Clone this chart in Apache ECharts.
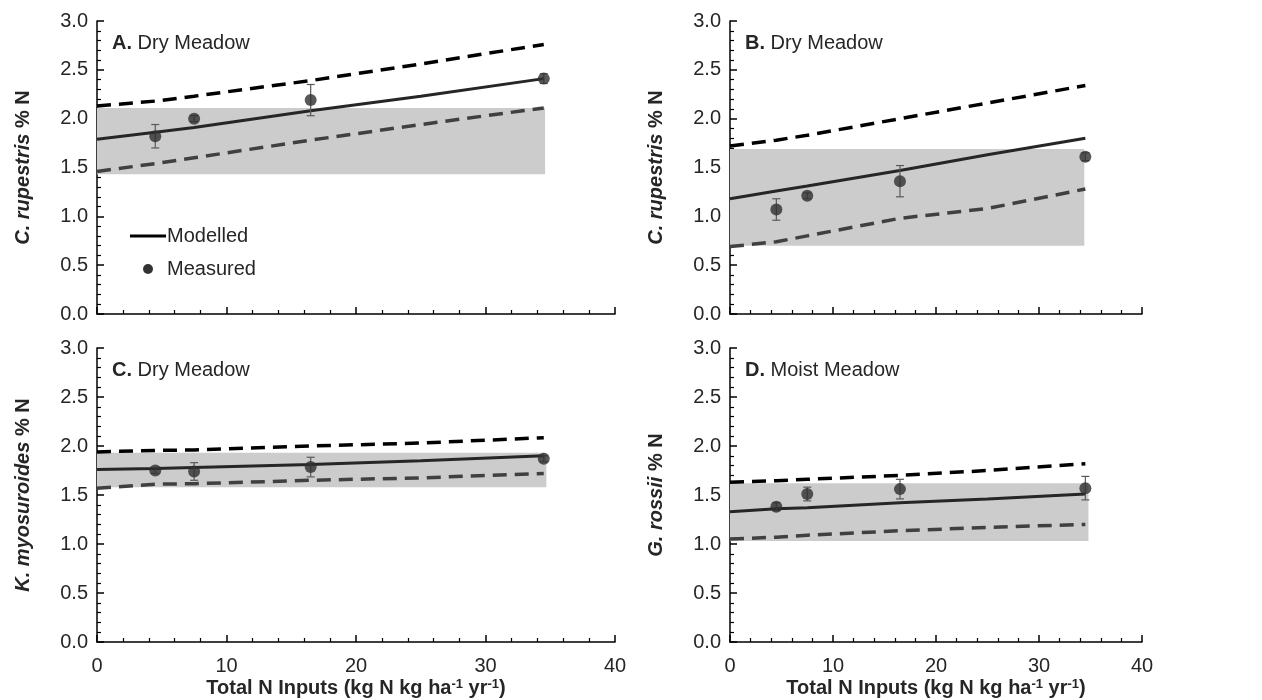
<!DOCTYPE html>
<html>
<head>
<meta charset="utf-8">
<script src="https://cdn.jsdelivr.net/npm/echarts@6/dist/echarts.min.js"></script>
<style>
  html, body { margin: 0; padding: 0; background: #fff; }
  #chart { width: 1262px; height: 700px; }
</style>
</head>
<body>
<div id="chart"></div>
<script>
// x positions (kg N ha-1 yr-1)
const nInputs = [4.5, 7.5, 16.5, 34.5]
const modelX = [0, 4.5, 7.5, 16.5, 25, 34.5]

// A. C. rupestris, Dry Meadow
const measuredA = [1.82, 2.00, 2.19, 2.41]
const errA = [0.12, 0.03, 0.16, 0.05]
const modelA = [1.79, 1.86, 1.91, 2.08, 2.23, 2.41]
const upperA = [2.13, 2.18, 2.23, 2.39, 2.56, 2.76]
const lowerA = [1.46, 1.54, 1.60, 1.78, 1.94, 2.11]
const bandA = [0, 1.43, 34.6, 2.11]

// B. C. rupestris, Dry Meadow
const measuredB = [1.07, 1.21, 1.36, 1.61]
const errB = [0.11, 0.03, 0.16, 0.04]
const modelB = [1.18, 1.26, 1.31, 1.47, 1.63, 1.80]
const upperB = [1.72, 1.78, 1.83, 2.00, 2.16, 2.34]
const lowerB = [0.69, 0.74, 0.80, 0.98, 1.08, 1.28]
const bandB = [0, 0.70, 34.4, 1.69]

// C. K. myosuroides, Dry Meadow
const measuredC = [1.75, 1.74, 1.785, 1.87]
const errC = [0.03, 0.09, 0.10, 0.03]
const modelC = [1.76, 1.77, 1.78, 1.81, 1.85, 1.90]
const upperC = [1.94, 1.955, 1.96, 2.00, 2.03, 2.085]
const lowerC = [1.57, 1.61, 1.615, 1.65, 1.675, 1.72]
const bandC = [0, 1.58, 34.7, 1.93]

// D. G. rossii, Moist Meadow
const measuredD = [1.38, 1.51, 1.56, 1.57]
const errD = [0.04, 0.07, 0.10, 0.12]
const modelD = [1.33, 1.36, 1.37, 1.42, 1.46, 1.51]
const upperD = [1.63, 1.645, 1.66, 1.70, 1.75, 1.82]
const lowerD = [1.05, 1.07, 1.09, 1.135, 1.17, 1.20]
const bandD = [0, 1.03, 34.8, 1.62]

const yTicks = [0, 0.5, 1.0, 1.5, 2.0, 2.5, 3.0]
const xTicks = [0, 10, 20, 30, 40]

const font = 'Liberation Sans, Arial, sans-serif'
const textColor = '#262626'
const fs = 20

const panels = [
  { label: 'A.', habitat: 'Dry Meadow', species: 'C. rupestris', measured: measuredA, err: errA, model: modelA, upper: upperA, lower: lowerA, band: bandA },
  { label: 'B.', habitat: 'Dry Meadow', species: 'C. rupestris', measured: measuredB, err: errB, model: modelB, upper: upperB, lower: lowerB, band: bandB },
  { label: 'C.', habitat: 'Dry Meadow', species: 'K. myosuroides', measured: measuredC, err: errC, model: modelC, upper: upperC, lower: lowerC, band: bandC },
  { label: 'D.', habitat: 'Moist Meadow', species: 'G. rossii', measured: measuredD, err: errD, model: modelD, upper: upperD, lower: lowerD, band: bandD }
]

const grids = [
  { left: 97, top: 21, width: 518, height: 293, outerBoundsMode: 'none' },
  { left: 730, top: 21, width: 412, height: 293, outerBoundsMode: 'none' },
  { left: 97, top: 348, width: 518, height: 294, outerBoundsMode: 'none' },
  { left: 730, top: 348, width: 412, height: 294, outerBoundsMode: 'none' }
]

const pair = (xs, ys) => xs.map((x, i) => [x, ys[i]])

const xAxes = grids.map((g, i) => ({
  type: 'value',
  gridIndex: i,
  min: xTicks[0],
  max: xTicks[xTicks.length - 1],
  interval: 10,
  axisLine: { lineStyle: { color: '#000', width: 1.5 } },
  axisTick: { inside: true, length: 7, lineStyle: { color: '#000', width: 1.5 } },
  minorTick: { show: true, splitNumber: 5, length: 4, lineStyle: { color: '#000', width: 1.2 } },
  splitLine: { show: false },
  axisLabel: { show: i >= 2, color: textColor, fontSize: fs, fontFamily: font, margin: 14 },
  name: i >= 2 ? 'Total N Inputs (kg N kg ha{s|-1} yr{s|-1})' : '',
  nameLocation: 'middle',
  nameGap: 36,
  nameTextStyle: {
    color: textColor, fontSize: fs, fontWeight: 'bold', fontFamily: font,
    rich: { s: { fontSize: 13, fontWeight: 'bold', fontFamily: font, color: textColor, verticalAlign: 'top', lineHeight: 20 } }
  }
}))

const yAxes = grids.map((g, i) => ({
  type: 'value',
  gridIndex: i,
  min: yTicks[0],
  max: yTicks[yTicks.length - 1],
  interval: 0.5,
  axisLine: { show: true, lineStyle: { color: '#000', width: 1.5 } },
  axisTick: { show: true, inside: true, length: 7, lineStyle: { color: '#000', width: 1.5 } },
  minorTick: { show: true, splitNumber: 5, length: 4, lineStyle: { color: '#000', width: 1.2 } },
  splitLine: { show: false },
  axisLabel: { color: textColor, fontSize: fs, fontFamily: font, margin: 9, formatter: v => v.toFixed(1) },
  name: '{i|' + panels[i].species + '} % N',
  nameLocation: 'middle',
  nameGap: 64,
  nameTextStyle: {
    color: textColor, fontSize: fs, fontWeight: 'bold', fontFamily: font,
    rich: { i: { fontStyle: 'italic', fontWeight: 'bold', fontSize: fs, fontFamily: font, color: textColor } }
  }
}))

const titles = panels.map((p, i) => ({
  text: '{b|' + p.label + '} ' + p.habitat,
  left: grids[i].left + 15,
  top: grids[i].top + 12,
  padding: 0,
  textStyle: {
    fontSize: fs, fontWeight: 'normal', fontFamily: font, color: textColor,
    rich: { b: { fontWeight: 'bold', fontSize: fs, fontFamily: font, color: textColor } }
  }
}))

const series = []
panels.forEach((p, i) => {
  // grey observed range
  series.push({
    type: 'custom',
    xAxisIndex: i,
    yAxisIndex: i,
    z: 1,
    silent: true,
    data: [p.band],
    renderItem: (params, api) => {
      const a = api.coord([api.value(0), api.value(1)])
      const b = api.coord([api.value(2), api.value(3)])
      return { type: 'rect', shape: { x: a[0], y: b[1], width: b[0] - a[0], height: a[1] - b[1] }, style: { fill: '#cccccc' } }
    }
  })
  series.push({
    name: 'Upper', type: 'line', xAxisIndex: i, yAxisIndex: i, z: 3, symbol: 'none', silent: true,
    data: pair(modelX, p.upper),
    lineStyle: { color: '#000', width: 3.5, type: [14, 8] }
  })
  series.push({
    name: 'Lower', type: 'line', xAxisIndex: i, yAxisIndex: i, z: 3, symbol: 'none', silent: true,
    data: pair(modelX, p.lower),
    lineStyle: { color: '#404040', width: 3.5, type: [14, 8] }
  })
  series.push({
    name: 'Modelled', type: 'line', xAxisIndex: i, yAxisIndex: i, z: 4, symbol: 'none', silent: true,
    data: pair(modelX, p.model),
    itemStyle: { color: '#000' },
    lineStyle: { color: '#262626', width: 3 }
  })
  // error bars
  series.push({
    type: 'custom',
    xAxisIndex: i,
    yAxisIndex: i,
    z: 5,
    silent: true,
    data: p.measured.map((v, j) => [nInputs[j], v - p.err[j], v + p.err[j]]),
    renderItem: (params, api) => {
      const lo = api.coord([api.value(0), api.value(1)])
      const hi = api.coord([api.value(0), api.value(2)])
      const style = { stroke: '#595959', lineWidth: 1.2 }
      return {
        type: 'group',
        children: [
          { type: 'line', shape: { x1: lo[0], y1: lo[1], x2: hi[0], y2: hi[1] }, style },
          { type: 'line', shape: { x1: lo[0] - 4, y1: lo[1], x2: lo[0] + 4, y2: lo[1] }, style },
          { type: 'line', shape: { x1: hi[0] - 4, y1: hi[1], x2: hi[0] + 4, y2: hi[1] }, style }
        ]
      }
    }
  })
  series.push({
    name: 'Measured', type: 'scatter', xAxisIndex: i, yAxisIndex: i, z: 6, silent: true,
    data: pair(nInputs, p.measured),
    symbol: 'circle', symbolSize: 12,
    itemStyle: { color: '#303030' }
  })
})

const chart = echarts.init(document.getElementById('chart'))
chart.setOption({
  animation: false,
  backgroundColor: '#fff',
  title: titles,
  legend: [
    {
      data: ['Modelled'], left: 130, top: 226, itemWidth: 36, itemHeight: 3, itemGap: 0,
      selectedMode: false, icon: 'rect', padding: 0,
      textStyle: { color: textColor, fontSize: fs, fontFamily: font, padding: [0, 0, 0, -4] }
    },
    {
      data: ['Measured'], left: 143, top: 259, itemWidth: 10, itemHeight: 10,
      selectedMode: false, icon: 'circle', padding: 0,
      itemStyle: { color: '#000' },
      textStyle: { color: textColor, fontSize: fs, fontFamily: font, padding: [0, 0, 0, 9] }
    }
  ],
  grid: grids,
  xAxis: xAxes,
  yAxis: yAxes,
  series
})
</script>
</body>
</html>
